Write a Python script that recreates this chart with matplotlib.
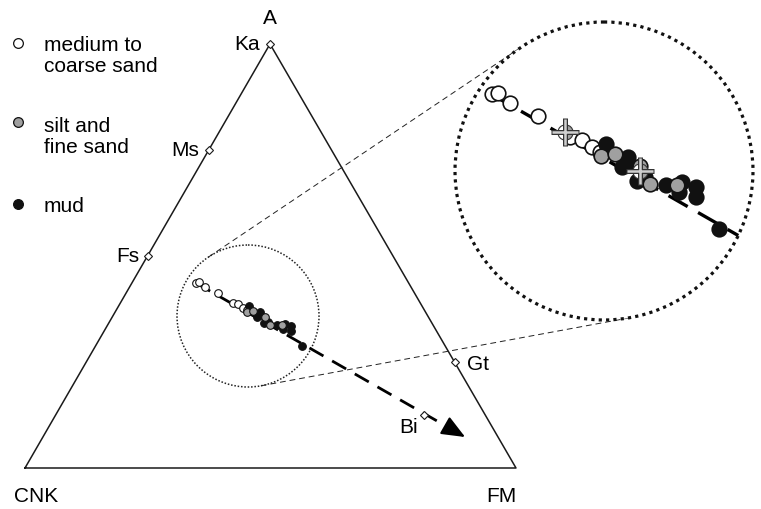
import numpy as np
import matplotlib.pyplot as plt
from matplotlib.patches import Circle

plt.rcParams['font.family'] = ['Liberation Sans', 'DejaVu Sans']

# sample compositions in A-CNK-FM space (% A, % FM; CNK is the rest)
coarse_A = [43.6, 43.8, 42.7, 41.2, 38.9, 38.6, 37.8, 37.3]
coarse_FM = [13.1, 13.6, 15.3, 18.7, 22.9, 24.2, 25.5, 26.5]

silt_A = [36.8, 37.1, 35.7, 33.8, 33.7]
silt_FM = [26.9, 28.0, 31.1, 33.0, 35.6]

mud_A = [38.2, 36.7, 35.6, 36.0, 34.1, 34.5, 33.7, 34.0, 32.9, 33.4, 32.3, 28.8]
mud_FM = [26.6, 29.5, 29.5, 29.9, 31.6, 32.2, 34.6, 35.9, 36.2, 37.6, 38.1, 42.0]

# group means
mean_A = [39.5, 35.2]
mean_FM = [22.1, 31.4]

# reference minerals
minerals = ['Ka', 'Ms', 'Fs', 'Gt', 'Bi']
mineral_A = [100, 75, 50, 25, 12.5]
mineral_FM = [0, 0, 0, 75, 75]

# weathering trend arrow (start, end)
trend_A = [43.6, 7.3]
trend_FM = [13.1, 86.0]

# layout (pixels)
CNK_XY = (25, 469)
FM_XY = (516, 469)
A_XY = (270, 45)
SMALL_C, SMALL_R = (248, 317), 71
BIG_C, BIG_R = (604, 172), 149
ZOOM_C = (603, 166)
MAG = 2.15


def tern(a, fm):
    a = np.asarray(a, float) / 100
    f = np.asarray(fm, float) / 100
    c = 1 - a - f
    x = a * A_XY[0] + c * CNK_XY[0] + f * FM_XY[0]
    y = a * A_XY[1] + c * CNK_XY[1] + f * FM_XY[1]
    return x, y


def zoom(x, y):
    return ZOOM_C[0] + MAG * (np.asarray(x) - SMALL_C[0]), ZOOM_C[1] + MAG * (np.asarray(y) - SMALL_C[1])


fig = plt.figure(figsize=(7.61, 5.10), dpi=100)
ax = fig.add_axes([0, 0, 1, 1])
ax.set_xlim(0, 761)
ax.set_ylim(510, 0)
ax.axis('off')

# triangle
tx = [CNK_XY[0], FM_XY[0], A_XY[0], CNK_XY[0]]
ty = [CNK_XY[1], FM_XY[1], A_XY[1], CNK_XY[1]]
ax.plot(tx, ty, color='#1a1a1a', lw=1.1, zorder=1)

fs = 15
ax.text(A_XY[0], 19, 'A', ha='center', va='center', fontsize=fs)
ax.text(CNK_XY[0] + 11, 497, 'CNK', ha='center', va='center', fontsize=fs)
ax.text(FM_XY[0] - 15, 497, 'FM', ha='center', va='center', fontsize=fs)

# minerals
mx, my = tern(mineral_A, mineral_FM)
ax.plot(mx, my, 'D', ms=4.5, mfc='white', mec='#1a1a1a', mew=0.8, zorder=6)
offsets = {'Ka': (-10, 0, 'right', 'center'), 'Ms': (-10, 0, 'right', 'center'),
           'Fs': (-8, 0, 'right', 'center'), 'Gt': (12, 2, 'left', 'center'),
           'Bi': (-6, 12, 'right', 'center')}
for name, x, y in zip(minerals, mx, my):
    dx, dy, ha, va = offsets[name]
    ax.text(x + dx, y + dy, name, ha=ha, va=va, fontsize=fs)

# trend line + arrow head
sx, sy = tern(trend_A, trend_FM)
d = np.array([sx[1] - sx[0], sy[1] - sy[0]])
d = d / np.hypot(*d)
base = (sx[1] - 16 * d[0], sy[1] - 16 * d[1])
ax.plot([sx[0], base[0]], [sy[0], base[1]], color='k', lw=2.0,
        linestyle=(0, (5.8, 3.6)), zorder=2)
ax.annotate('', xy=(sx[1], sy[1]), xytext=(base[0] - 2 * d[0], base[1] - 2 * d[1]),
            arrowprops=dict(arrowstyle='-|>,head_length=1.2,head_width=0.5',
                            color='k', lw=1.5, mutation_scale=12,
                            shrinkA=0, shrinkB=0), zorder=3)

# samples on the main diagram
groups = [(coarse_A, coarse_FM, 'white'), (mud_A, mud_FM, '#111111'),
          (silt_A, silt_FM, '#a0a0a0')]
for ga, gf, col in groups:
    x, y = tern(ga, gf)
    ax.plot(x, y, 'o', ms=5.5, mfc=col, mec='#111111', mew=0.8, ls='none', zorder=4)

# small circle and connecting tangents
ax.add_patch(Circle(SMALL_C, SMALL_R, fill=False, ec='#222222', lw=1.1,
                    linestyle=(0, (1, 1.2)), zorder=1))
ax.add_patch(Circle(BIG_C, BIG_R, fill=False, ec='#111111', lw=2.3,
                    linestyle=(0, (1, 1.3)), zorder=7))

c1 = np.array(SMALL_C, float)
c2 = np.array(BIG_C, float)
dv = c2 - c1
D = np.hypot(*dv)
ang0 = np.arctan2(dv[1], dv[0])
phi = np.arccos((BIG_R - SMALL_R) / D)
for sgn in (1, -1):
    n = np.array([np.cos(ang0 + sgn * phi), np.sin(ang0 + sgn * phi)])
    p1 = c1 - SMALL_R * n
    p2 = c2 - BIG_R * n
    ax.plot([p1[0], p2[0]], [p1[1], p2[1]], color='#222222', lw=0.7,
            linestyle=(0, (6, 4)), zorder=1)

# inset (magnified view of small circle)
clip = Circle(BIG_C, BIG_R, transform=ax.transData)
ax.add_patch(Circle(BIG_C, BIG_R, fc='white', ec='none', zorder=1.5))
zx, zy = zoom(*tern(trend_A, trend_FM))
ln, = ax.plot(zx, zy, color='k', lw=2.4, linestyle=(0, (6.6, 3.6)), zorder=2)
ln.set_clip_path(clip)
for ga, gf, col in groups:
    x, y = zoom(*tern(ga, gf))
    pts, = ax.plot(x, y, 'o', ms=10.5, mfc=col, mec='#111111', mew=1.2, ls='none', zorder=4)
    pts.set_clip_path(clip)

ex, ey = zoom(*tern(mean_A, mean_FM))
ax.plot(ex, ey, 'o', ms=11, fillstyle='right', mfc='#a0a0a0', mfcalt='white',
        mec='#333333', mew=0.8, ls='none', zorder=5)
ax.plot(ex, ey, '+', ms=20, mew=3.6, color='#333333', ls='none', zorder=5)
ax.plot(ex, ey, '+', ms=19, mew=1.8, color='#cfcfcf', ls='none', zorder=5)

# legend
leg_y = [44, 123, 205]
leg_cols = ['white', '#a0a0a0', '#111111']
for yy, col in zip(leg_y, leg_cols):
    ax.plot([18], [yy], 'o', ms=7, mfc=col, mec='#111111', mew=0.9)
leg_lines = [('medium to', 51), ('coarse sand', 72), ('silt and', 132),
             ('fine sand', 153), ('mud', 212)]
for txt, yb in leg_lines:
    ax.text(44, yb, txt, ha='left', va='baseline', fontsize=fs)

fig.savefig('out.png', dpi=100)
